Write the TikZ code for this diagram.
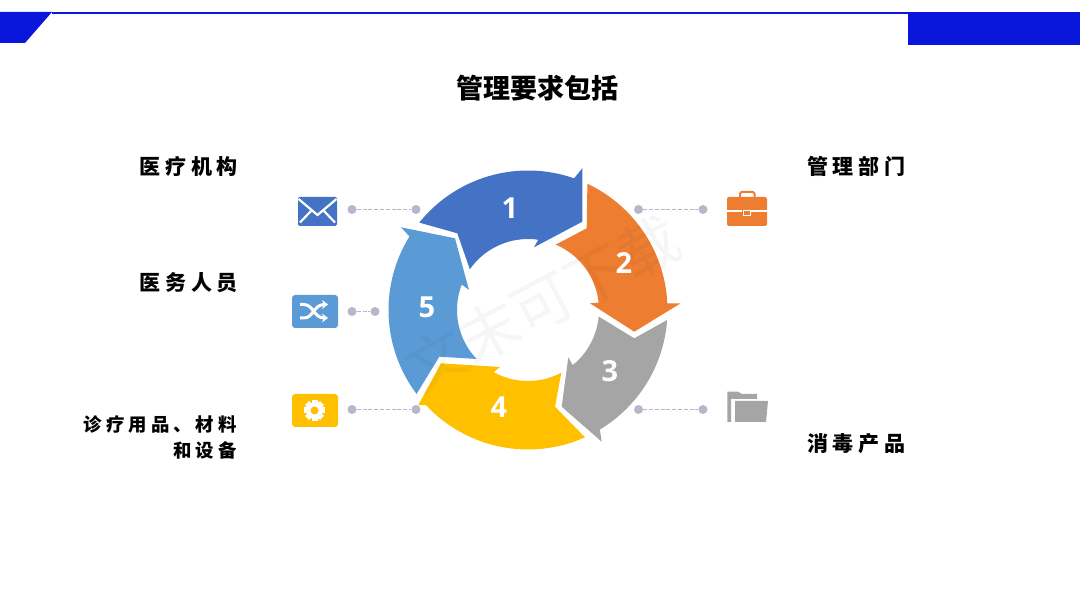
\documentclass[tikz,border=0pt]{standalone}
\usepackage{fontspec}
\usepackage{tikz}
\usetikzlibrary{arrows.meta,positioning}
\newfontfamily\cjkfont{Noto Sans CJK SC}
\newfontfamily\cjklab[LetterSpace=22]{Noto Sans CJK SC}
\newfontfamily\numfont{Open Sans}
\definecolor{deepblue}{HTML}{0A16DC}
\definecolor{arcblue}{HTML}{4472C4}
\definecolor{arcorange}{HTML}{ED7D31}
\definecolor{arcgray}{HTML}{A5A5A5}
\definecolor{arcyellow}{HTML}{FFC000}
\definecolor{arcsky}{HTML}{5B9BD5}
\definecolor{dotgray}{HTML}{B4B8CA}

\begin{document}
\begin{tikzpicture}[
  x=1pt, y=1pt,
  seg/.style={draw=none},
  num/.style={font=\numfont\bfseries\fontsize{29}{29}\selectfont, text=white, inner sep=0pt},
  lab/.style={font=\cjklab\bfseries\fontsize{21}{26}\selectfont, text=black, inner sep=0pt, align=right},
  dot/.style={circle, fill=dotgray, minimum size=9pt, inner sep=0pt},
  lead/.style={draw=dotgray, line width=1.4pt, dash pattern=on 4pt off 1.8pt},
  tile/.style={rounded corners=3pt, minimum width=46pt, minimum height=33pt, inner sep=0pt},
  ico/.style={draw=white, line width=2.2pt},
]
\useasboundingbox (0,0) rectangle (1080,608);

% ---------------- top band ----------------
\fill[deepblue] (52,596) -- (908,596) -- (908,594) -- (52,594) -- cycle;
\fill[deepblue] (0,596) -- (52,596) -- (25,565) -- (0,565) -- cycle;
\fill[deepblue] (908,596) rectangle (1080,563);

\node[font=\cjkfont\bfseries\fontsize{27}{27}\selectfont, inner sep=0pt] (title) at (537,520) {管理要求包括};

% ---------------- ring of five arrows ----------------
\begin{scope}[shift={(528,298)}]
  \fill[seg, arcblue] (141.2:139.5) arc (141.2:70.7:139.5) -- (54.3,141.7) -- (54.3,88.3)
    -- (6,62.7) -- (81.8:71) arc (81.8:145:71) -- (-70.7,76.7) -- cycle;
  \fill[seg, arcorange] (64.8:139.5) arc (64.8:2.7:139.5) -- (152.7,6.7) -- (106.3,-21.7)
    -- (62,6.7) -- (6:71) arc (6:67:71) -- (58.7,81.7) -- cycle;
  \fill[seg, arcgray] (-4.1:139.5) arc (-4.1:-59:139.5) -- (73.7,-131.7) -- (33.7,-96.7)
    -- (40.3,-47.3) -- (-51:71) arc (-51:-5.3:71) -- (106.3,-28.3) -- cycle;
  \fill[seg, arcyellow] (-65.9:139.5) arc (-65.9:-137:139.5) -- (-109.7,-95) -- (-87,-53.3)
    -- (-28,-57) -- (-119:71) arc (-119:-62:71) -- (27,-96.7) -- cycle;
  \fill[seg, arcsky] (217:139.5) arc (217:148.2:139.5) -- (-127,82.7) -- (-73,71.7)
    -- (-59,20) -- (159:71) arc (159:223.6:71) -- (-88.7,-46.7) -- cycle;
\end{scope}

\node[num] (n1) at (510,400) {1};
\node[num] (n2) at (624,345) {2};
\node[num] (n3) at (610,237) {3};
\node[num] (n4) at (499,201) {4};
\node[num] (n5) at (427,301) {5};

% ---------------- leaders ----------------
\node[dot] (la) at (352,398.5) {};
\node[dot] (lb) at (416,398.5) {};
\node[dot] (ma) at (352,296.5) {};
\node[dot] (mb) at (375,296.5) {};
\node[dot] (pa) at (352,198.5) {};
\node[dot] (pb) at (416,198.5) {};
\node[dot] (ra) at (638.5,398.5) {};
\node[dot] (rb) at (703,398.5) {};
\node[dot] (sa) at (638.5,198.5) {};
\node[dot] (sb) at (703,198.5) {};
\draw[lead] (la) -- (lb);
\draw[lead] (ma) -- (mb);
\draw[lead] (pa) -- (pb);
\draw[lead] (ra) -- (rb);
\draw[lead] (sa) -- (sb);

% ---------------- icons ----------------
% envelope
\node[tile, fill=arcblue, rounded corners=1.5pt, minimum width=39pt, minimum height=29pt] (mail) at (317.5,396.5) {};
\draw[ico] (298.5,409) -- (317.5,393) -- (336.5,409);
\draw[ico] (300,385.5) -- (311,397);
\draw[ico] (335,385.5) -- (324,397);

% shuffle
\node[tile, fill=arcsky] (mix) at (315,296.5) {};
\draw[ico, line width=3pt, -{Stealth[length=6pt,width=9pt]}] (300,303.5) -- (304,303.5)
  .. controls (313,303.5) and (314,290) .. (328,290);
\draw[ico, line width=3pt, -{Stealth[length=6pt,width=9pt]}] (300,290) -- (304,290)
  .. controls (313,290) and (314,303.5) .. (328,303.5);

% gear
\node[tile, fill=arcyellow] (gear) at (315,197.5) {};
\foreach \a in {0,45,...,315}
  \fill[white, rotate around={\a:(314.5,197.5)}] (311.5,203) rectangle (317.5,208);
\fill[white] (314.5,197.5) circle (8pt);
\fill[arcyellow] (314.5,197.5) circle (4pt);

% briefcase
\draw[arcorange, line width=2pt, rounded corners=1.5pt] (740,409) -- (740,416) -- (754.5,416) -- (754.5,409);
\node[fill=arcorange, rounded corners=2pt, minimum width=40pt, minimum height=29pt, inner sep=0pt] (case) at (747,396.5) {};
\draw[white, line width=1.2pt] (727,397) -- (742,397) (751,397) -- (767,397);
\draw[white, line width=1pt] (743,397.5) rectangle (750,392.5);

% folder
\fill[arcgray] (727.3,186) -- (727.3,216.3) -- (738,216.3) -- (742,214) -- (757,214) -- (757,209)
  -- (731,209) -- (731,186) -- cycle;
\fill[arcgray] (735,207) -- (768,207) -- (766,186) -- (735,186) -- cycle;

% ---------------- labels ----------------
\node[lab, anchor=east] (t1) at (238,441.5) {医疗机构};
\node[lab, anchor=east] (t2) at (238,325.5) {医务人员};
\node[lab, anchor=east, font=\cjklab\bfseries\fontsize{18.4}{26}\selectfont] (t3) at (237,171) {诊疗用品、材料\\和设备};
\node[lab, anchor=west] (t4) at (807,441.5) {管理部门};
\node[lab, anchor=west] (t5) at (807,164.5) {消毒产品};

% faint mark across the ring
\node[font=\cjkfont\fontsize{60}{60}\selectfont, text=black, opacity=0.035, rotate=28, inner sep=0pt] (mark) at (542,305) {文末可下载};
\end{tikzpicture}
\end{document}
